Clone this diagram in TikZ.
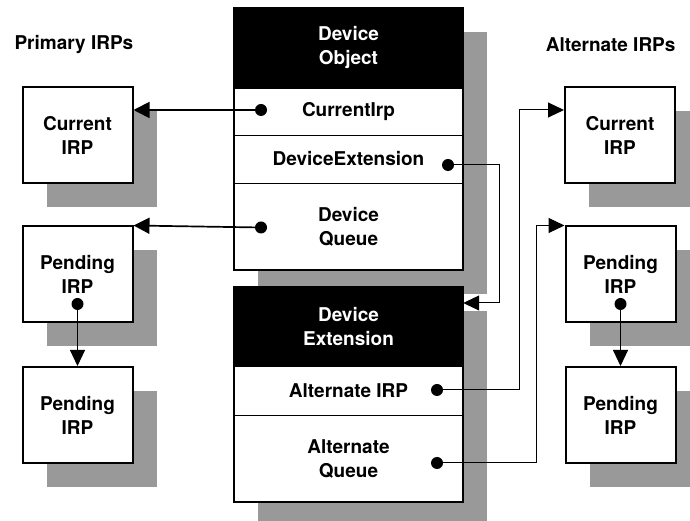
\documentclass[tikz,border=0pt]{standalone}
\usepackage{fontspec}
\setmainfont{TeX Gyre Heros}
\usetikzlibrary{arrows.meta}
\definecolor{shadowgray}{gray}{0.6}
\tikzset{
  lbl/.style={font=\fontsize{19}{24}\selectfont\bfseries, align=center},
  shadowed/.style={preaction={fill=shadowgray, transform canvas={shift={(24pt,-24pt)}}}},
  irpbox/.style={lbl, shadowed, draw, line width=2pt, fill=white, minimum width=110pt, minimum height=96pt, inner sep=0pt},
  objframe/.style={shadowed, draw, line width=2pt, fill=white, minimum width=229pt, inner sep=0pt},
  hdr/.style={lbl, fill=black, text=white, minimum width=229pt, inner sep=0pt},
  field/.style={lbl, draw, line width=0.8pt, minimum width=229pt, inner sep=0pt},
  bullet/.style={circle, fill=black, inner sep=0pt, minimum size=12pt},
  link/.style={line width=1.7pt, -{Triangle[length=16pt,width=16pt]}},
  thinlink/.style={line width=1pt, -{Triangle[length=16pt,width=15pt]}}
}
\begin{document}
\begin{tikzpicture}[x=1pt,y=1pt]
\useasboundingbox (0,0) rectangle (690,521);
\node[lbl, anchor=west] (primT) at (11,476) {Primary IRPs};
\node[lbl, anchor=east] (altT) at (679,476) {Alternate IRPs};

\node[irpbox] (curL) at (77.5,386) {Current\\IRP};
\node[irpbox] (pend1L) at (77.5,246.5) {Pending\\IRP};
\node[irpbox] (pend2L) at (77.5,106) {Pending\\IRP};
\node[irpbox] (curR) at (620,386) {Current\\IRP};
\node[irpbox] (pend1R) at (620.5,246.5) {Pending\\IRP};
\node[irpbox] (pend2R) at (620.5,106) {Pending\\IRP};

\node[objframe, minimum height=262pt] (devobj) at (348.5,382) {};
\node[hdr, minimum height=80pt] (objhdr) at (348.5,473) {Device\\Object};
\node[field, minimum height=47pt] (curirp) at (348.5,409.5) {CurrentIrp};
\node[field, minimum height=48pt] (devext) at (348.5,362) {DeviceExtension};
\node[field, minimum height=87pt] (devq) at (348.5,294.5) {Device\\Queue};

\node[objframe, minimum height=215pt] (extobj) at (348.5,126.5) {};
\node[hdr, minimum height=79pt] (exthdr) at (348.5,194.5) {Device\\Extension};
\node[field, minimum height=49pt] (altirp) at (348.5,130.5) {Alternate IRP};
\node[field, minimum height=87pt] (altq) at (348.5,62.5) {Alternate\\Queue};

\node[bullet] (dCur) at (261,411) {};
\node[bullet] (dQ) at (261,293.5) {};
\node[bullet] (dExt) at (448,356) {};
\node[bullet] (dAlt) at (437,131) {};
\node[bullet] (dAltQ) at (437,58) {};
\node[bullet] (dP1L) at (77.5,217) {};
\node[bullet] (dP1R) at (620.5,217) {};

\draw[link] (dCur) -- (dCur -| curL.east);
\draw[link] (dQ) -- (pend1L.north east);
\draw[thinlink] (dExt) -- ++(51,0) |- ([yshift=23.5pt]exthdr.east);
\draw[thinlink] (dAlt) -- ++(82,0) |- ([yshift=25pt]curR.west);
\draw[thinlink] (dAltQ) -- ++(99,0) |- (pend1R.north west);
\draw[thinlink] (dP1L) -- (pend2L.north);
\draw[thinlink] (dP1R) -- (pend2R.north);
\end{tikzpicture}
\end{document}
